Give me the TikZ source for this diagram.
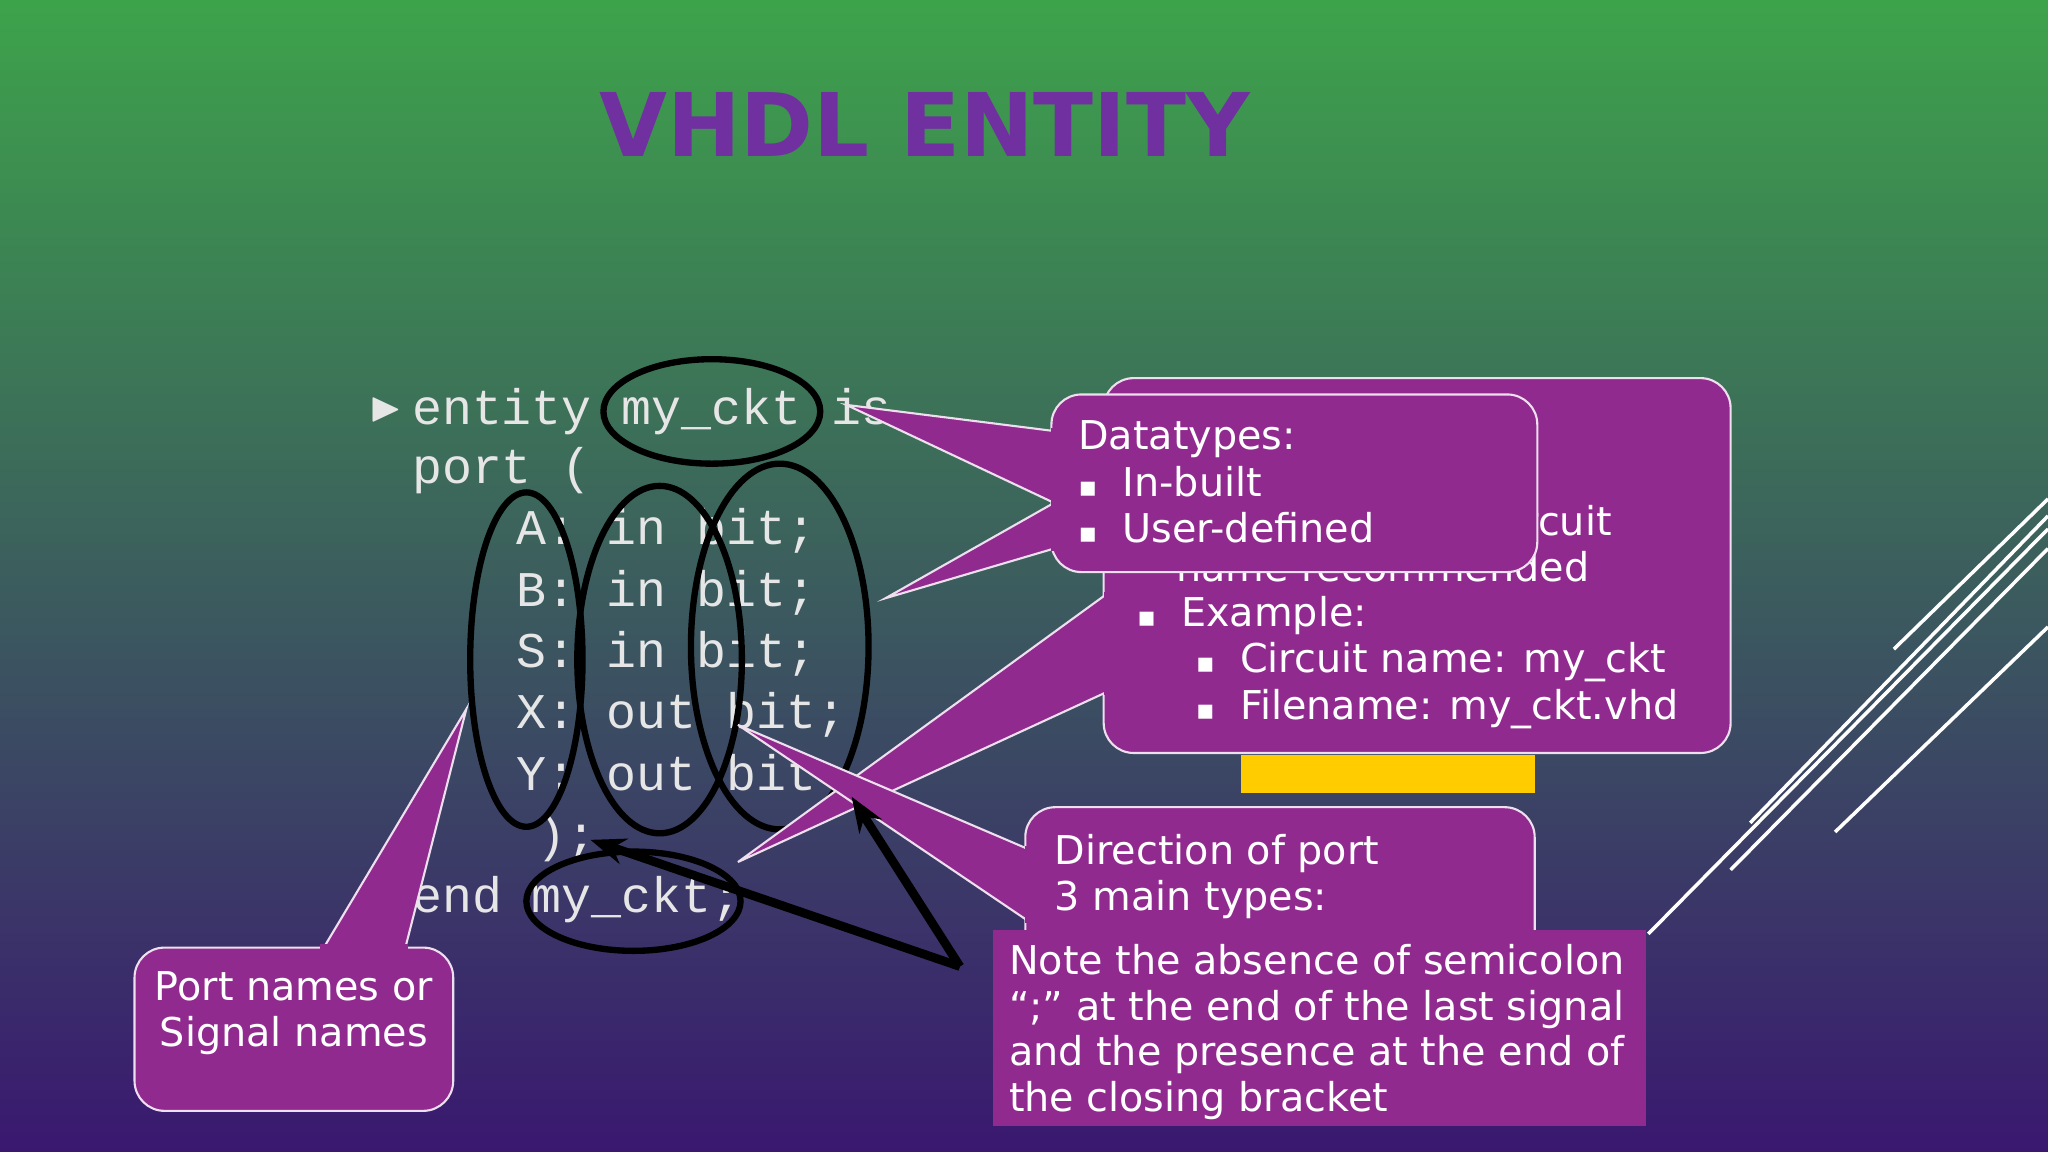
\documentclass[tikz,border=0pt]{standalone}
\usepackage{amssymb}
\usepackage{fontspec}
\setmainfont{DejaVu Sans}
\newfontfamily\codefont{Liberation Mono}
\usetikzlibrary{arrows.meta}
\definecolor{slidegreen}{HTML}{3DA34B}
\definecolor{slidemid}{HTML}{2C5B63}
\definecolor{slidepurple}{HTML}{3A1870}
\definecolor{calloutfill}{HTML}{912A8E}
\definecolor{titlepurple}{HTML}{7030A0}
\definecolor{codegray}{HTML}{E6E6E6}
\definecolor{noteyellow}{HTML}{FFCC00}
\newcommand\pxu{0.013061cm}
\newcommand\sqb{{\fontsize{8}{8}\selectfont ▪}\ \ }
\begin{document}
\begin{tikzpicture}[x=0.013061cm,y=-0.013061cm]
	\tikzset{code/.style = {anchor=base west, inner sep=0pt, text=codegray, font=\codefont\fontsize{14.2}{17}\selectfont}}
	\tikzset{say/.style = {anchor=base west, inner sep=0pt, text=white, font=\fontsize{11.3}{13.5}\selectfont}}
	\tikzset{box/.style = {fill=calloutfill, draw=white!85!calloutfill, line width=0.6pt, rounded corners=0.3cm, inner sep=0pt}}
	\tikzset{wedge/.style = {fill=calloutfill, draw=white!85!calloutfill, line width=0.6pt}}
	\tikzset{ring/.style = {draw=black, line width=1.8pt}}
	\tikzset{deco/.style = {draw=white, line width=1pt}}

	% background
	\shade[top color=slidegreen, middle color=slidemid, bottom color=slidepurple] (0,0) rectangle (1568,882);
	\useasboundingbox (0,0) rectangle (1568,882);

	% decorative lines
	\draw[deco] (1262,715) -- (1568,405);
	\draw[deco] (1340,630) -- (1568,395);
	\draw[deco] (1405,637) -- (1568,480);
	\draw[deco] (1450,497) -- (1568,382);
	\draw[deco] (1325,666) -- (1568,420);

	% title
	\node[text=titlepurple, font=\bfseries\fontsize{25}{30}\selectfont] (title) at (708,95) {VHDL ENTITY};

	% code
	\node[code] (bul) at (282,322) {\fontsize{12}{12}\selectfont$\blacktriangleright$};
	\node[code] (l1) at (315,325) {entity my\_ckt is};
	\node[code] (l2) at (315,370) {port (};
	\node[code] (l3) at (395,417) {A: in  bit;};
	\node[code] (l4) at (395,464) {B: in  bit;};
	\node[code] (l5) at (395,511) {S: in  bit;};
	\node[code] (l6) at (395,558) {X: out bit;};
	\node[code] (l7) at (395,605) {Y: out bit};
	\node[code] (l8) at (410,652) {);};
	\node[code] (l9) at (315,699) {end my\_ckt;};

	% rings
	\draw[ring] (545,315) ellipse [x radius=83, y radius=40];
	\draw[ring] (485,690) ellipse [x radius=82, y radius=38];
	\draw[ring] (403,505) ellipse [x radius=43, y radius=128];
	\draw[ring] (505,505) ellipse [x radius=63, y radius=133];
	\draw[ring] (597,495) ellipse [x radius=68, y radius=140];

	% name callout (behind)
	\coordinate (nametip) at (565,660);
	\node[box, minimum width=480*\pxu, minimum height=287*\pxu] (name) at (1085,433) {};
	\fill[wedge] (847,455) -- (nametip) -- (847,530) -- cycle;
	\fill[calloutfill] (845,453) rectangle (852,532);
	\node[say] (n1) at (880,342) {Name of the circuit};
	\node[say] (n2) at (1000,410) {Same as circuit};
	\node[say] (n3) at (900,445) {name recommended};
	\node[say] (n4) at (870,480) {\sqb Example:};
	\node[say] (n5) at (915,515) {\sqb Circuit name: my\_ckt};
	\node[say] (n6) at (915,551) {\sqb Filename: my\_ckt.vhd};
	\fill[noteyellow] (950,578) rectangle (1175,607);

	% datatypes callout
	\coordinate (typetipa) at (648,310);
	\coordinate (typetipb) at (678,458);
	\node[box, minimum width=372*\pxu, minimum height=136*\pxu] (types) at (991,370) {};
	\fill[wedge] (807,330) -- (typetipa) -- (807,385) -- cycle;
	\fill[wedge] (807,385) -- (typetipb) -- (807,420) -- cycle;
	\fill[calloutfill] (805,328) rectangle (812,422);
	\node[say] (t1) at (825,344) {Datatypes:};
	\node[say] (t2) at (825,380) {\sqb In-built};
	\node[say] (t3) at (825,415) {\sqb User-defined};

	% direction callout
	\coordinate (dirtip) at (565,555);
	\node[box, minimum width=390*\pxu, minimum height=150*\pxu] (dir) at (980,693) {};
	\fill[wedge] (787,650) -- (dirtip) -- (787,705) -- cycle;
	\fill[calloutfill] (785,648) rectangle (792,707);
	\node[say] (d1) at (807,662) {Direction of port};
	\node[say] (d2) at (807,697) {3 main types:};

	% note box
	\node[fill=calloutfill, minimum width=500*\pxu, minimum height=150*\pxu, inner sep=0pt] (note) at (1010,787) {};
	\node[say] (e1) at (772,746) {Note the absence of semicolon};
	\node[say] (e2) at (772,781) {``;'' at the end of the last signal};
	\node[say] (e3) at (772,816) {and the presence at the end of};
	\node[say] (e4) at (772,851) {the closing bracket};

	% port names callout
	\coordinate (porttip) at (357,543);
	\node[box, minimum width=244*\pxu, minimum height=125*\pxu] (port) at (225,788) {};
	\fill[wedge] (247,727) -- (porttip) -- (310,727) -- cycle;
	\fill[calloutfill] (245,723) rectangle (312,732);
	\node[say, anchor=base] (p1) at (225,766) {Port names or};
	\node[say, anchor=base] (p2) at (225,801) {Signal names};

	% black arrows
	\coordinate (arrowfoot) at (735,740);
	\coordinate (bracket) at (452,643);
	\coordinate (lastbit) at (652,610);
	\draw[line width=2.5pt, -{Stealth[length=10pt]}] (arrowfoot) -- (bracket);
	\draw[line width=2.5pt, -{Stealth[length=10pt]}] (arrowfoot) -- (lastbit);
\end{tikzpicture}
\end{document}
